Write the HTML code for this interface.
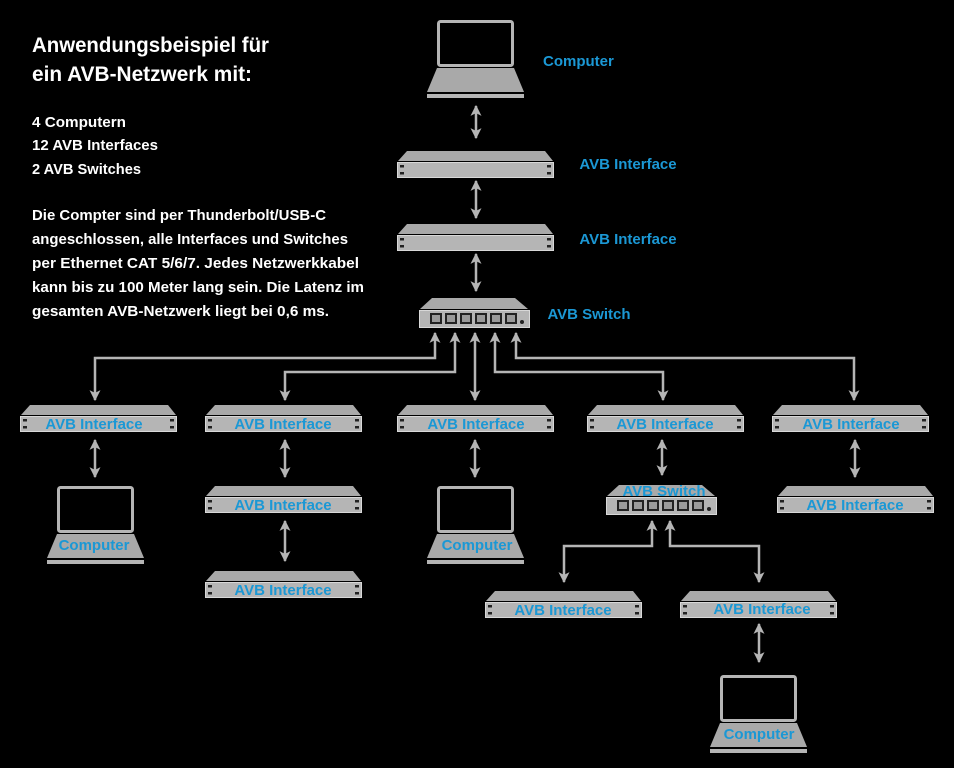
<!DOCTYPE html>
<html><head><meta charset="utf-8"><style>
html,body{margin:0;padding:0;background:#000;width:954px;height:768px;overflow:hidden}
svg{display:block}
.t{font-family:"Liberation Sans",sans-serif;font-weight:bold;fill:#fff}
.b{font-family:"Liberation Sans",sans-serif;font-weight:bold;fill:#1b98d5;font-size:15px}
</style></head><body>
<svg width="954" height="768" viewBox="0 0 954 768" xmlns="http://www.w3.org/2000/svg">
<defs>
<g id="rack">
<polygon points="10,0 148,0 156,10 1,10" fill="#a9a9a9"/>
<rect x="0.5" y="11.5" width="156" height="15" fill="#b5b5b5" stroke="#d8d8d8"/>
<rect x="3" y="14" width="4" height="2.5" fill="#222"/><rect x="3" y="21" width="4" height="2.5" fill="#222"/>
<rect x="150" y="14" width="4" height="2.5" fill="#222"/><rect x="150" y="21" width="4" height="2.5" fill="#222"/>
</g>
<g id="lap">
<rect x="11.5" y="1.5" width="74" height="44" rx="2" fill="#000" stroke="#b5b5b5" stroke-width="3"/>
<polygon points="10,48 87,48 97,72 0,72" fill="#a9a9a9"/>
<rect x="0" y="74" width="97" height="4" fill="#b5b5b5"/>
</g>
<g id="sw">
<polygon points="13,0 96,0 109,11 1,11" fill="#a9a9a9"/>
<rect x="0.5" y="12.5" width="110" height="17" fill="#b5b5b5" stroke="#d8d8d8"/>
<g fill="#222"><rect x="11" y="15" width="12" height="11"/><rect x="26" y="15" width="12" height="11"/><rect x="41" y="15" width="12" height="11"/><rect x="56" y="15" width="12" height="11"/><rect x="71" y="15" width="12" height="11"/><rect x="86" y="15" width="12" height="11"/></g>
<g fill="#9a9a9a"><rect x="13" y="17" width="8" height="7"/><rect x="28" y="17" width="8" height="7"/><rect x="43" y="17" width="8" height="7"/><rect x="58" y="17" width="8" height="7"/><rect x="73" y="17" width="8" height="7"/><rect x="88" y="17" width="8" height="7"/></g>
<circle cx="103" cy="24" r="2" fill="#222"/>
</g>
<marker id="ah" viewBox="0 0 10 10" refX="9" refY="5" markerWidth="5" markerHeight="4.4" orient="auto-start-reverse" markerUnits="strokeWidth">
<path d="M0,0 L10,5 L0,10 L2.5,5 Z" fill="#b5b5b5"/></marker>
</defs>

<text class="t" font-size="21" x="32" y="52" textLength="237" lengthAdjust="spacingAndGlyphs">Anwendungsbeispiel für</text>
<text class="t" font-size="21" x="32" y="81" textLength="220" lengthAdjust="spacingAndGlyphs">ein AVB-Netzwerk mit:</text>
<g class="t" font-size="15">
<text x="32" y="127" textLength="94" lengthAdjust="spacingAndGlyphs">4 Computern</text>
<text x="32" y="150" textLength="126" lengthAdjust="spacingAndGlyphs">12 AVB Interfaces</text>
<text x="32" y="174" textLength="109" lengthAdjust="spacingAndGlyphs">2 AVB Switches</text>
<text x="32" y="220" textLength="294" lengthAdjust="spacingAndGlyphs">Die Compter sind per Thunderbolt/USB-C</text>
<text x="32" y="244" textLength="316" lengthAdjust="spacingAndGlyphs">angeschlossen, alle Interfaces und Switches</text>
<text x="32" y="268" textLength="327" lengthAdjust="spacingAndGlyphs">per Ethernet CAT 5/6/7. Jedes Netzwerkkabel</text>
<text x="32" y="292" textLength="332" lengthAdjust="spacingAndGlyphs">kann bis zu 100 Meter lang sein. Die Latenz im</text>
<text x="32" y="316" textLength="297" lengthAdjust="spacingAndGlyphs">gesamten AVB-Netzwerk liegt bei 0,6 ms.</text>
</g>

<g fill="none" stroke="#b5b5b5" stroke-width="2.5" marker-start="url(#ah)" marker-end="url(#ah)">
<path d="M476,106 V138"/><path d="M476,181 V218"/><path d="M476,254 V291"/>
<path d="M435,333 V358 H95 V400"/>
<path d="M455,333 V372 H285 V400"/>
<path d="M475,333 V400"/>
<path d="M495,333 V372 H663 V400"/>
<path d="M516,333 V358 H854 V400"/>
<path d="M95,440 V477"/><path d="M285,440 V477"/><path d="M285,521 V561"/>
<path d="M475,440 V477"/><path d="M662,440 V475"/><path d="M855,440 V477"/>
<path d="M652,521 V546 H564 V582"/>
<path d="M670,521 V546 H759 V582"/>
<path d="M759,624 V662"/>
</g>

<use href="#lap" x="427" y="20"/>
<use href="#rack" x="397" y="151"/><use href="#rack" x="397" y="224"/>
<use href="#sw" x="419" y="298"/>
<use href="#rack" x="20" y="405"/><use href="#rack" x="205" y="405"/><use href="#rack" x="397" y="405"/>
<use href="#rack" x="587" y="405"/><use href="#rack" x="772" y="405"/>
<use href="#rack" x="205" y="486"/><use href="#rack" x="777" y="486"/><use href="#rack" x="205" y="571"/>
<use href="#rack" x="485" y="591"/><use href="#rack" x="680" y="591"/>
<use href="#sw" x="606" y="485"/>
<use href="#lap" x="47" y="486"/><use href="#lap" x="427" y="486"/><use href="#lap" x="710" y="675"/>

<g class="b" text-anchor="middle">
<text x="543" y="66" text-anchor="start">Computer</text>
<text x="628" y="169">AVB Interface</text>
<text x="628" y="244">AVB Interface</text>
<text x="589" y="319">AVB Switch</text>
<text x="94" y="429">AVB Interface</text>
<text x="283" y="429">AVB Interface</text>
<text x="476" y="429">AVB Interface</text>
<text x="665" y="429">AVB Interface</text>
<text x="851" y="429">AVB Interface</text>
<text x="283" y="510">AVB Interface</text>
<text x="855" y="510">AVB Interface</text>
<text x="283" y="595">AVB Interface</text>
<text x="563" y="615">AVB Interface</text>
<text x="762" y="614">AVB Interface</text>
<text x="664" y="496">AVB Switch</text>
<text x="94" y="550">Computer</text>
<text x="477" y="550">Computer</text>
<text x="759" y="739">Computer</text>
</g>
</svg>
</body></html>
